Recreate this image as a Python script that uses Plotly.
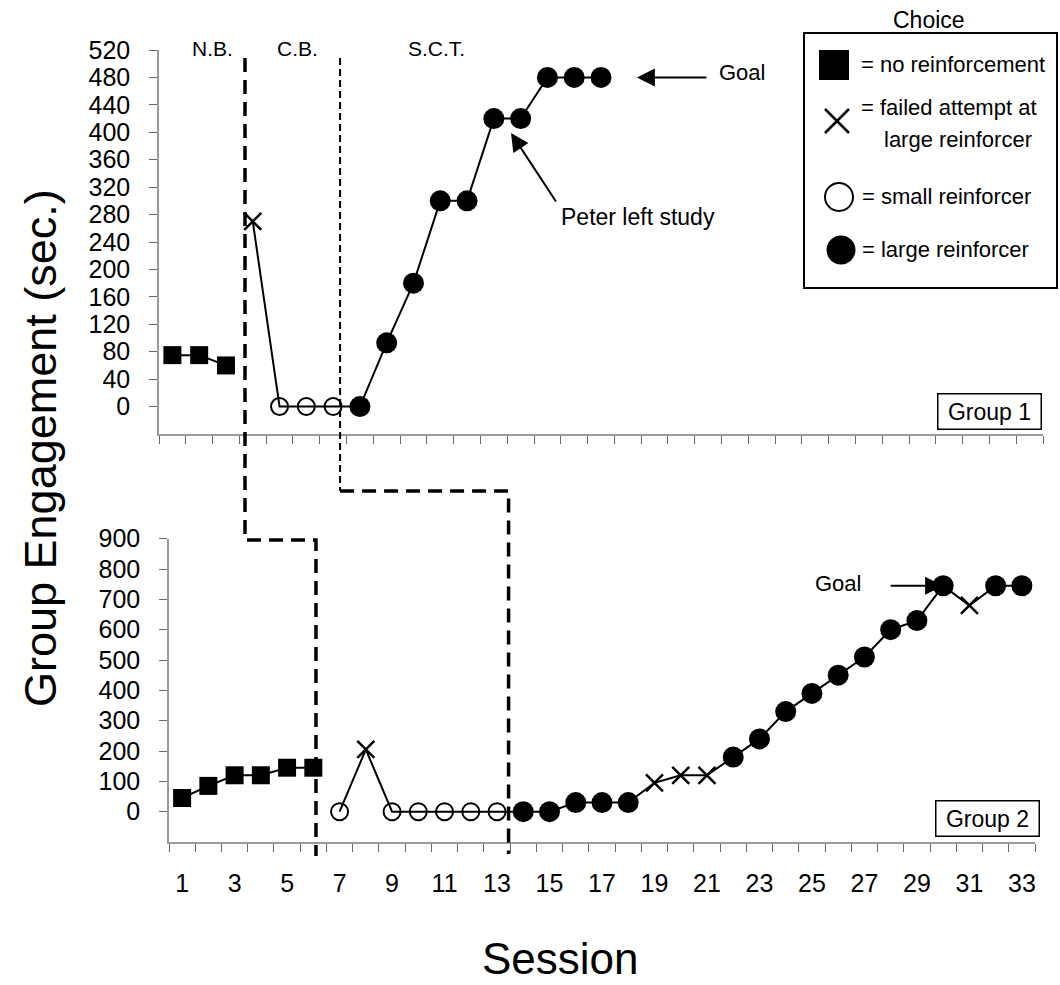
import plotly.graph_objects as go

# ---------------- data ----------------
sessions_g1 = list(range(1, 18))
engagement_g1 = [75, 75, 60, 270, 0, 0, 0, 0, 93, 180, 300, 300, 420, 420, 480, 480, 480]
choice_g1 = ["none"] * 3 + ["failed"] + ["small"] * 3 + ["large"] * 10
g1_baseline_last = 3

sessions_g2 = list(range(1, 34))
engagement_g2 = [45, 85, 120, 120, 145, 145,
                 0, 205, 0, 0, 0, 0, 0,
                 0, 0, 30, 30, 30,
                 95, 120, 120,
                 180, 240, 330, 390, 450, 510, 600, 630, 745,
                 680, 745, 745]
choice_g2 = (["none"] * 6 + ["small"] + ["failed"] + ["small"] * 5 + ["large"] * 5 +
             ["failed"] * 3 + ["large"] * 9 + ["failed"] + ["large"] * 2)
g2_baseline_last = 6

y1_ticks = list(range(0, 521, 40))
y2_ticks = list(range(0, 901, 100))
x_tick_labels = list(range(1, 34, 2))

# phase-change line positions (in session units of each panel)
g1_nb_cb, g1_cb_sct = 3.71, 7.26
g2_nb_cb, g2_cb_sct = 6.10, 13.44

phase_labels = ["N.B.", "C.B.", "S.C.T."]
choice_names = {
    "none": "= no reinforcement",
    "failed": "= failed attempt at",
    "small": "= small reinforcer",
    "large": "= large reinforcer",
}

# ---------------- geometry / style ----------------
W, H = 1060, 985
FONT = "Liberation Sans, Arial, sans-serif"
AXC = "#9a9a9a"
TICKC = "#666666"

top_x_px = (159, 1043)
top_y_px = (434, 50)       # pixel of y=-40 and y=520
bot_x_px = (169, 1035)
bot_y_px = (842, 538.7)    # pixel of y=-100 and y=900
XR = [0.5, 33.5]
Y1R = [-40, 520]
Y2R = [-100, 900]


def pxx(x):
    return x / W


def pxy(y):
    return (H - y) / H


def sess_px(s, xp):
    return xp[0] + (s - XR[0]) / (XR[1] - XR[0]) * (xp[1] - xp[0])


STYLE = {
    "none": dict(symbol="square", size=18, color="black"),
    "failed": dict(symbol="x-thin-open", size=17, color="black", line=dict(width=2.5, color="black")),
    "small": dict(symbol="circle-open", size=17, color="black", line=dict(width=2, color="black")),
    "large": dict(symbol="circle", size=21, color="black"),
}

fig = go.Figure()


def add_group(sessions, values, choices, baseline_last, xa, ya):
    segs = [(0, baseline_last), (baseline_last, len(sessions))]
    for a, b in segs:
        fig.add_trace(go.Scatter(x=sessions[a:b], y=values[a:b], mode="lines",
                                 line=dict(color="black", width=2),
                                 xaxis=xa, yaxis=ya, showlegend=False, hoverinfo="skip"))
    for key in ["none", "failed", "small", "large"]:
        xs = [s for s, c in zip(sessions, choices) if c == key]
        ys = [v for v, c in zip(values, choices) if c == key]
        if xs:
            fig.add_trace(go.Scatter(x=xs, y=ys, mode="markers", marker=STYLE[key],
                                     xaxis=xa, yaxis=ya, showlegend=False))


add_group(sessions_g1, engagement_g1, choice_g1, g1_baseline_last, "x", "y")
add_group(sessions_g2, engagement_g2, choice_g2, g2_baseline_last, "x2", "y2")

# legend key markers on a hidden full-page pixel axis
leg_keys = ["none", "failed", "small", "large"]
leg_pos = [(834, 65), (837, 121), (839, 197), (841, 250)]
leg_sizes = {"none": 30, "failed": 24, "small": 28, "large": 29}
for key, (lx, ly) in zip(leg_keys, leg_pos):
    st = dict(STYLE[key])
    st["size"] = leg_sizes[key]
    fig.add_trace(go.Scatter(x=[lx], y=[ly], mode="markers", marker=st,
                             xaxis="x3", yaxis="y3", showlegend=False, hoverinfo="skip"))

axis_common = dict(showgrid=False, zeroline=False, showline=True, linecolor=AXC, linewidth=1.5,
                   tickcolor=TICKC, tickwidth=1.2, ticklen=8, automargin=False,
                   tickfont=dict(family=FONT, size=25, color="black"))

fig.update_layout(
    width=W, height=H,
    margin=dict(l=0, r=0, t=0, b=0, pad=0, autoexpand=False),
    paper_bgcolor="white", plot_bgcolor="rgba(0,0,0,0)",
    showlegend=False,
    xaxis=dict(axis_common, domain=[pxx(top_x_px[0]), pxx(top_x_px[1])], range=XR, anchor="y",
               tickmode="array", tickvals=[k + 0.5 for k in range(34)], ticks="outside",
               showticklabels=False),
    yaxis=dict(axis_common, domain=[pxy(top_y_px[0]), pxy(top_y_px[1])], range=Y1R, anchor="x",
               tickmode="array", tickvals=y1_ticks, ticks="outside", ticklabelstandoff=14),
    xaxis2=dict(axis_common, domain=[pxx(bot_x_px[0]), pxx(bot_x_px[1])], range=XR, anchor="y2",
                tickmode="array", tickvals=x_tick_labels, ticktext=[str(v) for v in x_tick_labels],
                ticks="", ticklabelstandoff=18,
                minor=dict(tickmode="array", tickvals=[k + 0.5 for k in range(34)], ticks="outside",
                           ticklen=8, tickcolor=TICKC, tickwidth=1.2, showgrid=False)),
    yaxis2=dict(axis_common, domain=[pxy(bot_y_px[0]), pxy(bot_y_px[1])], range=Y2R, anchor="x2",
                tickmode="array", tickvals=y2_ticks, ticks="outside", ticklabelstandoff=14),
    xaxis3=dict(domain=[0, 1], range=[0, W], visible=False, anchor="y3", fixedrange=True, automargin=False),
    yaxis3=dict(domain=[0, 1], range=[H, 0], visible=False, anchor="x3", fixedrange=True, automargin=False),
)

# ---------------- phase change lines ----------------
thick = dict(color="black", width=3.5, dash="14px,8px")
thin = dict(color="black", width=2, dash="7px,4px")

x_a_top = pxx(sess_px(g1_nb_cb, top_x_px))
x_a_bot = pxx(sess_px(g2_nb_cb, bot_x_px))
x_b_top = pxx(sess_px(g1_cb_sct, top_x_px))
x_b_bot = pxx(sess_px(g2_cb_sct, bot_x_px))

fig.add_shape(type="path", xref="paper", yref="paper", line=thick,
              path=f"M {x_a_top},{pxy(58)} L {x_a_top},{pxy(540)} L {x_a_bot},{pxy(540)} L {x_a_bot},{pxy(856)}")
fig.add_shape(type="line", xref="paper", yref="paper", line=thin,
              x0=x_b_top, x1=x_b_top, y0=pxy(58), y1=pxy(491))
fig.add_shape(type="path", xref="paper", yref="paper", line=thick,
              path=f"M {x_b_top},{pxy(491)} L {x_b_bot},{pxy(491)} L {x_b_bot},{pxy(854)}")

# legend box
fig.add_shape(type="rect", xref="paper", yref="paper", line=dict(color="black", width=2),
              x0=pxx(804), x1=pxx(1057), y0=pxy(288), y1=pxy(33))

ann = []


def txt(text, x, y, size=21, xanchor="center", **kw):
    ann.append(dict(text=text, x=pxx(x), y=pxy(y), xref="paper", yref="paper", showarrow=False,
                    xanchor=xanchor, yanchor="middle", font=dict(family=FONT, size=size, color="black"), **kw))


# phase labels
for lab, lx in zip(phase_labels, [212, 297, 436]):
    txt(lab, lx, 49, size=21)

# legend
txt("Choice", 929, 20, size=23)
txt(choice_names["none"], 859, 65, xanchor="left", size=22)
txt(choice_names["failed"], 859, 108, xanchor="left", size=22)
txt("large reinforcer", 882, 140, xanchor="left", size=22)
txt(choice_names["small"], 860, 197, xanchor="left", size=22)
txt(choice_names["large"], 860, 249, xanchor="left", size=22)

# goal / notes
txt("Goal", 742, 73, size=22)
txt("Peter left study", 638, 217, size=23)
txt("Goal", 838, 583, size=22)

# axis titles
txt("Group Engagement (sec.)", 40, 448, size=45, textangle=-90)
txt("Session", 560, 958, size=44)

# group boxes
for label, cx, cy in [("Group 1", 989, 411), ("Group 2", 987, 818)]:
    txt(label, cx, cy, size=23, bordercolor="black", borderwidth=1.5, bgcolor="white",
        width=100, height=32)

# arrows
arrow = dict(showarrow=True, arrowhead=2, arrowsize=1.8, arrowwidth=2, arrowcolor="black",
             text="", standoff=0, startstandoff=0)
ann.append(dict(arrow, x=18.34, y=480, xref="x", yref="y", ax=71, ay=0))
ann.append(dict(arrow, x=13.64, y=399, xref="x", yref="y", ax=46, ay=70))
ann.append(dict(arrow, x=30.0, y=745, xref="x2", yref="y2", ax=-54, ay=0))

fig.update_layout(annotations=ann)

fig.write_html("out.html",
               config={"displayModeBar": False},
               post_script="document.body.style.margin='0';document.body.style.overflow='hidden';")
